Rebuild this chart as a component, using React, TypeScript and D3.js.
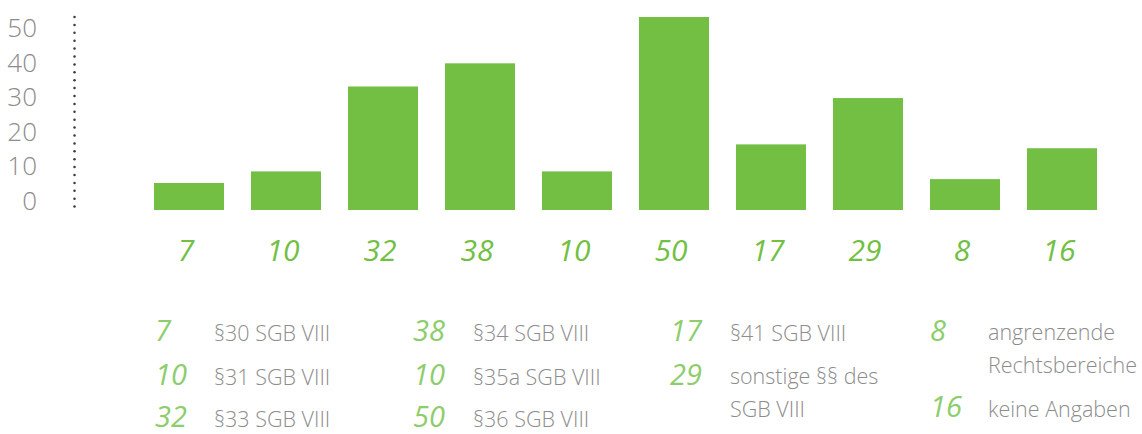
import React from "react";
import * as d3 from "d3";

const categories = [
  "§30 SGB VIII",
  "§31 SGB VIII",
  "§33 SGB VIII",
  "§34 SGB VIII",
  "§35a SGB VIII",
  "§36 SGB VIII",
  "§41 SGB VIII",
  "sonstige §§ des SGB VIII",
  "angrenzende Rechtsbereiche",
  "keine Angaben",
];
const values = [7, 10, 32, 38, 10, 50, 17, 29, 8, 16];
const yTicks = [0, 10, 20, 30, 40, 50];

// legend layout: column index, lines of the label, row positions
const legendCols = [0, 0, 0, 1, 1, 1, 2, 2, 3, 3];
const legendLines: string[][] = [
  ["§30 SGB VIII"],
  ["§31 SGB VIII"],
  ["§33 SGB VIII"],
  ["§34 SGB VIII"],
  ["§35a SGB VIII"],
  ["§36 SGB VIII"],
  ["§41 SGB VIII"],
  ["sonstige §§ des", "SGB VIII"],
  ["angrenzende", "Rechtsbereiche"],
  ["keine Angaben"],
];
const legendNumY = [341, 385, 427, 341, 385, 427, 341, 385, 341, 417];
const legendTextY = [341, 385, 427, 341, 385, 427, 341, 384, 340, 417];

const W = 1142;
const H = 434;
const BAR = "#72bf44";
const NUM = "#8dcd6b";
const GRAY = "#8c8c8c";
const FONT = "'Open Sans', 'DejaVu Sans', sans-serif";

export default function App() {
  const x = d3
    .scaleBand<number>()
    .domain(d3.range(values.length))
    .range([140.5, 1110.5])
    .paddingInner(0.278)
    .paddingOuter(0.139);
  const yBar = d3.scaleLinear().domain([0, 50]).range([210, 17]);
  const yAxis = d3.scaleLinear().domain([0, 50]).range([210, 37]);

  const dots = d3.range(17, 209, 7.9);

  const colX = [155, 413, 670, 930];
  const colTextX = [214, 473, 730, 988];

  return (
    <svg
      width={W}
      height={H}
      style={{ position: "absolute", left: 0, top: 0, display: "block" }}
    >
      <rect width={W} height={H} fill="#fff" />
      {yTicks.map((t) => (
        <text
          key={t}
          x={37}
          y={yAxis(t)}
          textAnchor="end"
          fontFamily={FONT}
          fontWeight={300}
          fontSize={26}
          fill={GRAY}
        >
          {t}
        </text>
      ))}
      {dots.map((d, i) => (
        <circle key={i} cx={74.5} cy={d} r={1.25} fill="#3a3a3a" />
      ))}
      {values.map((v, i) => (
        <rect
          key={i}
          x={x(i)}
          y={yBar(v)}
          width={x.bandwidth()}
          height={yBar(0) - yBar(v)}
          fill={BAR}
        />
      ))}
      {values.map((v, i) => (
        <text
          key={"l" + i}
          x={(x(i) as number) + x.bandwidth() / 2 - 3}
          y={261}
          textAnchor="middle"
          fontFamily={FONT}
          fontStyle="italic"
          fontSize={30}
          fill={BAR}
        >
          {v}
        </text>
      ))}
      {values.map((v, i) => (
        <g key={"g" + i}>
          <text
            x={colX[legendCols[i]]}
            y={legendNumY[i]}
            fontFamily={FONT}
            fontStyle="italic"
            fontSize={29}
            fill={NUM}
          >
            {v}
          </text>
          {legendLines[i].map((ln, j) => (
            <text
              key={j}
              x={colTextX[legendCols[i]]}
              y={legendTextY[i] + j * 33}
              fontFamily={FONT}
              fontWeight={300}
              fontSize={21.5}
              fill={GRAY}
            >
              {ln}
            </text>
          ))}
        </g>
      ))}
    </svg>
  );
}
